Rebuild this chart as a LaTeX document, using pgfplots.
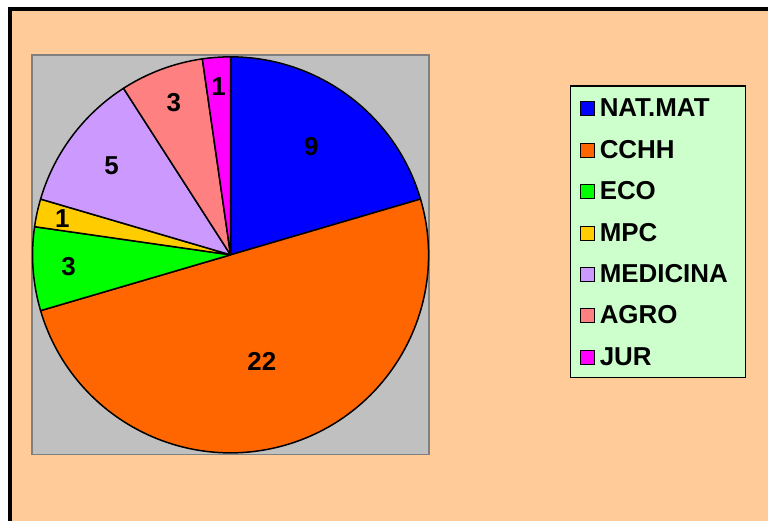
\documentclass[border=0pt]{standalone}
\usepackage{fontspec}
\setmainfont{Liberation Sans}
\usepackage{pgfplots}
\pgfplotsset{compat=1.18}
\definecolor{peach}{HTML}{FFCC99}
\definecolor{plotgray}{HTML}{C0C0C0}
\definecolor{framegray}{HTML}{808080}
\definecolor{legendgreen}{HTML}{CCFFCC}
\definecolor{cNat}{HTML}{0000FF}
\definecolor{cCchh}{HTML}{FF6600}
\definecolor{cEco}{HTML}{00FF00}
\definecolor{cMpc}{HTML}{FFCC00}
\definecolor{cMed}{HTML}{CC99FF}
\definecolor{cAgro}{HTML}{FF8080}
\definecolor{cJur}{HTML}{FF00FF}
\tikzset{pielabel/.style={font=\fontsize{26}{26}\selectfont\bfseries, inner sep=0pt}}
\pgfplotsset{every axis legend/.style={
    at={(1.3532,0.9249)}, anchor=north west, shape=rectangle,
    fill=legendgreen, draw=black, line width=1.5bp,
    inner xsep=9.6bp, inner ysep=12.3bp,
    font=\fontsize{26}{26}\selectfont\bfseries,
    cells={anchor=base west},
    nodes={inner sep=0pt, text height=18.6bp, text depth=0pt, text width=136bp, align=left},
    row sep=22.8bp}}
\begin{document}
\begin{tikzpicture}
\path[use as bounding box] (0,0) rectangle (768bp,521bp);
\fill[white] (0,0) rectangle (768bp,521bp);
\fill[peach] (10.3bp,0) rectangle (768bp,512.15bp);
\draw[line width=4bp, line join=miter] (10.3bp,0) -- (10.3bp,512.15bp) -- (768bp,512.15bp);
\begin{axis}[
  at={(31.8bp,66.5bp)}, anchor=south west,
  scale only axis, width=397.5bp, height=399.3bp,
  xmin=-1, xmax=1, ymin=-1, ymax=1,
  ticks=none,
  axis background/.style={fill=plotgray},
  axis line style={draw=framegray, line width=1.7bp},
  clip=false,
  legend image code/.code={\draw[#1, line width=1bp] (0.5bp,1.0bp) rectangle (14.5bp,15.0bp);
    \path[draw=none, fill=none] (0bp,8bp) -- (19.7bp,8bp);},
]
\addlegendimage{fill=cNat, draw=black}\addlegendentry{NAT.MAT}
\addlegendimage{fill=cCchh, draw=black}\addlegendentry{CCHH}
\addlegendimage{fill=cEco, draw=black}\addlegendentry{ECO}
\addlegendimage{fill=cMpc, draw=black}\addlegendentry{MPC}
\addlegendimage{fill=cMed, draw=black}\addlegendentry{MEDICINA}
\addlegendimage{fill=cAgro, draw=black}\addlegendentry{AGRO}
\addlegendimage{fill=cJur, draw=black}\addlegendentry{JUR}
\gdef\curangle{90}
\foreach \v/\c/\lr in {9/cNat/0.68, 22/cCchh/0.56, 3/cEco/0.82, 1/cMpc/0.87, 5/cMed/0.75, 3/cAgro/0.82, 1/cJur/0.85}{
  \pgfmathsetmacro\a{\curangle}
  \pgfmathsetmacro\b{\curangle-\v/44*360}
  \pgfmathsetmacro\m{(\a+\b)/2}
  \pgfmathsetmacro\rr{\lr*198}
  \edef\temp{\noexpand\filldraw[fill=\c, draw=black, line width=1.5bp, line join=round] (axis cs:0,0) -- ++(\a:198bp) arc[start angle=\a, end angle=\b, radius=198bp] -- cycle;
    \noexpand\path (axis cs:0,0) ++(\m:\rr bp) node[pielabel] {\v};}
  \temp
  \xdef\curangle{\b}
}
\end{axis}
\end{tikzpicture}
\end{document}
